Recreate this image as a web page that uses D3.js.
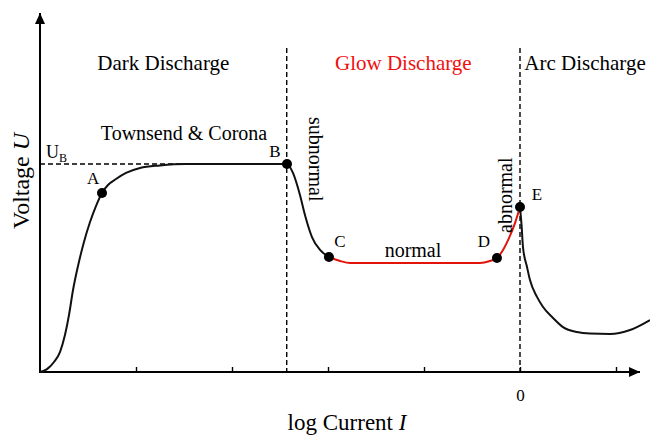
<!DOCTYPE html>
<html>
<head>
<meta charset="utf-8">
<script src="https://cdn.jsdelivr.net/npm/d3@7/dist/d3.min.js"></script>
<style>
body{margin:0;background:#fff;}
text{font-family:"Liberation Serif","Times New Roman",serif;fill:#000;}
</style>
</head>
<body>
<div id="chart"></div>
<script>
// x = log current, y = voltage as a fraction of U_B
var darkX = [-5,-4.927,-4.854,-4.792,-4.74,-4.698,-4.656,-4.604,-4.542,-4.479,-4.417,-4.354,-4.292,-4.208,-4.104,-3.958,-3.75,-3.49,-2.427,-2.365,-2.292,-2.24,-2.167,-2.083,-1.99];
var darkU = [0,0.014,0.048,0.096,0.178,0.274,0.394,0.51,0.625,0.721,0.798,0.861,0.899,0.928,0.957,0.981,0.993,1,1,0.957,0.851,0.755,0.649,0.587,0.553];
var glowX = [-1.99,-1.875,-1.77,-0.417,-0.3125,-0.24,-0.177,-0.115,-0.052,0];
var glowU = [0.553,0.534,0.524,0.524,0.534,0.548,0.587,0.644,0.716,0.793];
var arcX = [0,0.016,0.031,0.073,0.104,0.177,0.24,0.344,0.448,0.594,0.729,0.9375,1.146,1.354];
var arcU = [0.793,0.707,0.601,0.505,0.442,0.361,0.3125,0.26,0.216,0.192,0.185,0.183,0.202,0.25];

var pointNames = ["A","B","C","D","E"];
var pointX = [-4.354,-2.427,-1.99,-0.24,0];
var pointU = [0.861,1,0.553,0.548,0.793];

var regionNames = ["Dark Discharge","Glow Discharge","Arc Discharge"];
var regionBounds = [-5,-2.43,0,1.354];
var tickValues = [-4,-3,-2,-1,0,1];

var width = 650, height = 436;

var x = d3.scaleLinear().domain([-5,1.25]).range([40,640]);
var y = d3.scaleLinear().domain([0,1]).range([372,164]);

var svg = d3.select("#chart").append("svg")
    .attr("width",width).attr("height",height);

svg.append("defs").append("marker")
    .attr("id","arrow")
    .attr("markerUnits","userSpaceOnUse")
    .attr("viewBox","0 0 11 10")
    .attr("refX",11).attr("refY",5)
    .attr("markerWidth",11).attr("markerHeight",10)
    .attr("orient","auto")
  .append("path")
    .attr("d","M0,0L11,5L0,10Z")
    .attr("fill","#000");

//dashed region borders
svg.selectAll(".border")
    .data(regionBounds.slice(1,3))
  .enter().append("line")
    .attr("class","border")
    .attr("x1",function(d){return x(d);}).attr("x2",function(d){return x(d);})
    .attr("y1",48).attr("y2",y(0))
    .attr("stroke","#000").attr("stroke-width",1.4)
    .attr("stroke-dasharray","5,3");

//U_B dashed line
svg.append("line")
    .attr("x1",x(-5)).attr("x2",x(-3.5))
    .attr("y1",y(1)).attr("y2",y(1))
    .attr("stroke","#000").attr("stroke-width",1.4)
    .attr("stroke-dasharray","5,3");

//axes
var xAxis = svg.append("g")
    .attr("transform","translate(0,"+y(0)+")")
    .call(d3.axisBottom(x).tickValues(tickValues).tickSize(-5).tickPadding(17)
        .tickFormat(function(d){return d===0 ? "0" : "";}));
xAxis.select(".domain").remove();
xAxis.selectAll("line").attr("stroke-width",1.4);
xAxis.selectAll("text")
    .attr("font-family","Liberation Serif, serif")
    .attr("font-size",17).attr("fill","#000");

svg.append("line")
    .attr("x1",x(-5)-1).attr("x2",x(1.25))
    .attr("y1",y(0)).attr("y2",y(0))
    .attr("stroke","#000").attr("stroke-width",2)
    .attr("marker-end","url(#arrow)");
svg.append("line")
    .attr("x1",x(-5)).attr("x2",x(-5))
    .attr("y1",y(0)+1).attr("y2",y(1.726))
    .attr("stroke","#000").attr("stroke-width",2)
    .attr("marker-end","url(#arrow)");

//curves
var line = d3.line()
    .x(function(d){return x(d[0]);})
    .y(function(d){return y(d[1]);})
    .curve(d3.curveMonotoneX);

function pairs(xs,us){ return xs.map(function(v,i){return [v,us[i]];}); }

svg.append("path").datum(pairs(darkX,darkU))
    .attr("d",line).attr("fill","none").attr("stroke","#111").attr("stroke-width",2);
svg.append("path").datum(pairs(arcX,arcU))
    .attr("d",line).attr("fill","none").attr("stroke","#111").attr("stroke-width",2);
svg.append("path").datum(pairs(glowX,glowU))
    .attr("d",line).attr("fill","none").attr("stroke","#e3120b").attr("stroke-width",2);

//points
var labelOffset = {A:[-9,-9],B:[-12,-7],C:[11,-10],D:[-13,-11],E:[17,-7]};
svg.selectAll(".pt")
    .data(pointNames)
  .enter().append("circle")
    .attr("class","pt")
    .attr("cx",function(d,i){return x(pointX[i]);})
    .attr("cy",function(d,i){return y(pointU[i]);})
    .attr("r",5).attr("fill","#000");
svg.selectAll(".ptlabel")
    .data(pointNames)
  .enter().append("text")
    .attr("class","ptlabel")
    .attr("x",function(d,i){return x(pointX[i])+labelOffset[d][0];})
    .attr("y",function(d,i){return y(pointU[i])+labelOffset[d][1];})
    .attr("text-anchor","middle")
    .attr("font-size",17)
    .text(function(d){return d;});

//region titles
svg.selectAll(".region")
    .data(regionNames)
  .enter().append("text")
    .attr("class","region")
    .attr("x",function(d,i){return x((regionBounds[i]+regionBounds[i+1])/2);})
    .attr("y",70)
    .attr("text-anchor","middle")
    .attr("font-size",21)
    .style("fill",function(d,i){return i==1 ? "#f01010" : "#000";})
    .text(function(d){return d;});

svg.append("text")
    .attr("x",x(-3.5)).attr("y",y(1)-24)
    .attr("text-anchor","middle").attr("font-size",20)
    .text("Townsend & Corona");

svg.append("text")
    .attr("x",x((pointX[2]+pointX[3])/2)).attr("y",y(glowU[3])-6)
    .attr("text-anchor","middle").attr("font-size",20)
    .text("normal");

svg.append("text")
    .attr("transform","translate(309,117) rotate(90)")
    .attr("font-size",20)
    .text("subnormal");

svg.append("text")
    .attr("transform","translate(512,233) rotate(-90)")
    .attr("font-size",20)
    .text("abnormal");

var ub = svg.append("text").attr("x",46).attr("y",158).attr("font-size",18);
ub.append("tspan").text("U");
ub.append("tspan").attr("font-size",12).attr("dy",4).text("B");

//axis titles
var yt = svg.append("text")
    .attr("transform","translate(29,181) rotate(-90)")
    .attr("text-anchor","middle").attr("font-size",24);
yt.append("tspan").text("Voltage ");
yt.append("tspan").style("font-style","italic").text("U");

var xt = svg.append("text")
    .attr("x",347).attr("y",430)
    .attr("text-anchor","middle").attr("font-size",23);
xt.append("tspan").text("log Current ");
xt.append("tspan").style("font-style","italic").text("I");
</script>
</body>
</html>
